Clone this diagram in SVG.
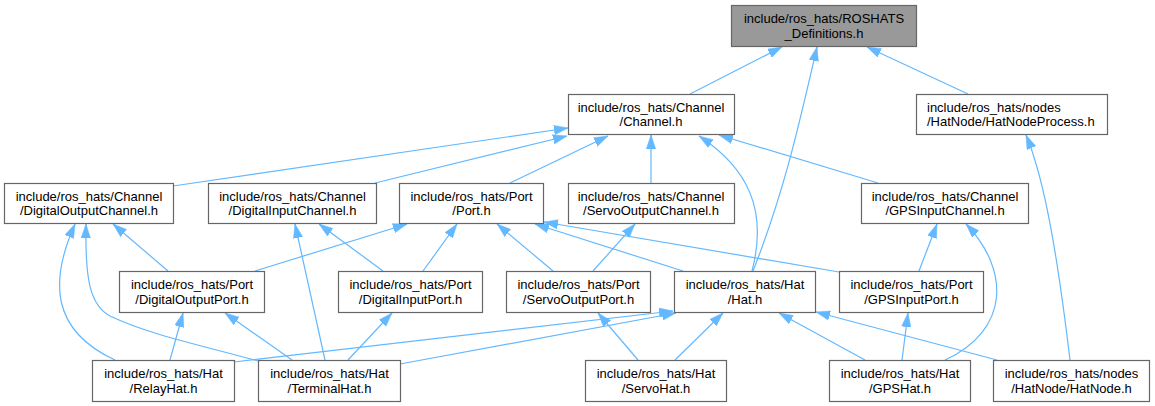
<svg xmlns="http://www.w3.org/2000/svg" width="1155" height="406" viewBox="0 0 1155 406">
<style>
.n rect{fill:#ffffff;stroke:#666666;stroke-width:1.2}
#root rect{fill:#999999}
.n text{font-family:"Liberation Sans",Arial,sans-serif;font-size:13px;fill:#000000;text-anchor:middle}
#hnp text{text-anchor:start}
.e path{fill:none;stroke:#63b8ff;stroke-width:1.2;marker-start:url(#ah)}
</style>
<defs>
<marker id="ah" viewBox="0 0 14 10" refX="14" refY="5" markerWidth="14" markerHeight="10" markerUnits="userSpaceOnUse" orient="auto-start-reverse">
<path d="M0,0.3 L14,5 L0,9.7 z" fill="#63b8ff" stroke="#63b8ff" stroke-width="0.5"/>
</marker>
</defs>
<rect width="1155" height="406" fill="#ffffff"/>
<g id="edges" class="e">
<path d="M782,47 L690,94"/>
<path d="M817,47 C800,120 785,190 753,271"/>
<path d="M867,47 L968,94"/>
<path d="M568,128 L173,186"/>
<path d="M567,136 L375,183"/>
<path d="M608,136 L510,183"/>
<path d="M651,135 L651,183"/>
<path d="M699,136 C748,168 768,210 752,271"/>
<path d="M719,135 L878,183"/>
<path d="M1026,135 C1045,180 1058,260 1070,360"/>
<path d="M75,224 C50,280 50,330 115,360"/>
<path d="M86,224 C85,280 90,305 110,316 C150,335 200,345 258,361"/>
<path d="M113,224 L168,271"/>
<path d="M295,224 L325,360"/>
<path d="M319,224 L383,271"/>
<path d="M407,224 L255,271"/>
<path d="M457,224 L423,271"/>
<path d="M497,224 L553,271"/>
<path d="M535,224 L683,271"/>
<path d="M544,222 L839,272"/>
<path d="M635,224 L593,271"/>
<path d="M937,224 L919,271"/>
<path d="M966,224 C1010,270 1010,330 945,360"/>
<path d="M673,311 L234,362"/>
<path d="M676,313 L400,364"/>
<path d="M723,313 L675,360"/>
<path d="M779,313 L865,360"/>
<path d="M816,312 L997,360"/>
<path d="M598,313 L638,360"/>
<path d="M183,313 L170,360"/>
<path d="M225,313 L292,360"/>
<path d="M392,313 L348,360"/>
<path d="M908,313 L902,360"/>
</g>
<g id="root" class="n"><rect x="731.5" y="5.5" width="185" height="41"/><text x="824" y="23">include/ros_hats/ROSHATS</text><text x="824" y="37.5">_Definitions.h</text></g>
<g id="channel" class="n"><rect x="568.5" y="94.5" width="166" height="40"/><text x="651" y="111.5">include/ros_hats/Channel</text><text x="651" y="126">/Channel.h</text></g>
<g id="hnp" class="n"><rect x="916.5" y="94.5" width="191" height="40"/><text x="927" y="111.5">include/ros_hats/nodes</text><text x="927" y="126">/HatNode/HatNodeProcess.h</text></g>
<g id="doc" class="n"><rect x="4.5" y="183.5" width="169" height="40"/><text x="89" y="200.5">include/ros_hats/Channel</text><text x="89" y="215">/DigitalOutputChannel.h</text></g>
<g id="dic" class="n"><rect x="208.5" y="183.5" width="168" height="40"/><text x="292.5" y="200.5">include/ros_hats/Channel</text><text x="292.5" y="215">/DigitalInputChannel.h</text></g>
<g id="port" class="n"><rect x="399.5" y="183.5" width="144" height="40"/><text x="471.5" y="200.5">include/ros_hats/Port</text><text x="471.5" y="215">/Port.h</text></g>
<g id="soc" class="n"><rect x="568.5" y="183.5" width="166" height="40"/><text x="651" y="200.5">include/ros_hats/Channel</text><text x="651" y="215">/ServoOutputChannel.h</text></g>
<g id="gpsic" class="n"><rect x="861.5" y="183.5" width="167" height="40"/><text x="945" y="200.5">include/ros_hats/Channel</text><text x="945" y="215">/GPSInputChannel.h</text></g>
<g id="dop" class="n"><rect x="119.5" y="271.5" width="145" height="41"/><text x="192" y="289">include/ros_hats/Port</text><text x="192" y="303.5">/DigitalOutputPort.h</text></g>
<g id="dip" class="n"><rect x="338.5" y="271.5" width="144" height="41"/><text x="410.5" y="289">include/ros_hats/Port</text><text x="410.5" y="303.5">/DigitalInputPort.h</text></g>
<g id="sop" class="n"><rect x="506.5" y="271.5" width="144" height="41"/><text x="578.5" y="289">include/ros_hats/Port</text><text x="578.5" y="303.5">/ServoOutputPort.h</text></g>
<g id="hat" class="n"><rect x="674.5" y="271.5" width="141" height="41"/><text x="745" y="289">include/ros_hats/Hat</text><text x="745" y="303.5">/Hat.h</text></g>
<g id="gpsip" class="n"><rect x="839.5" y="271.5" width="144" height="41"/><text x="911.5" y="289">include/ros_hats/Port</text><text x="911.5" y="303.5">/GPSInputPort.h</text></g>
<g id="relay" class="n"><rect x="92.5" y="360.5" width="142" height="41"/><text x="163.5" y="378">include/ros_hats/Hat</text><text x="163.5" y="392.5">/RelayHat.h</text></g>
<g id="terminal" class="n"><rect x="258.5" y="360.5" width="142" height="41"/><text x="329.5" y="378">include/ros_hats/Hat</text><text x="329.5" y="392.5">/TerminalHat.h</text></g>
<g id="servohat" class="n"><rect x="585.5" y="360.5" width="141" height="41"/><text x="656" y="378">include/ros_hats/Hat</text><text x="656" y="392.5">/ServoHat.h</text></g>
<g id="gpshat" class="n"><rect x="829.5" y="360.5" width="141" height="41"/><text x="900" y="378">include/ros_hats/Hat</text><text x="900" y="392.5">/GPSHat.h</text></g>
<g id="hatnode" class="n"><rect x="993.5" y="360.5" width="156" height="41"/><text x="1071.5" y="378">include/ros_hats/nodes</text><text x="1071.5" y="392.5">/HatNode/HatNode.h</text></g>
</svg>
